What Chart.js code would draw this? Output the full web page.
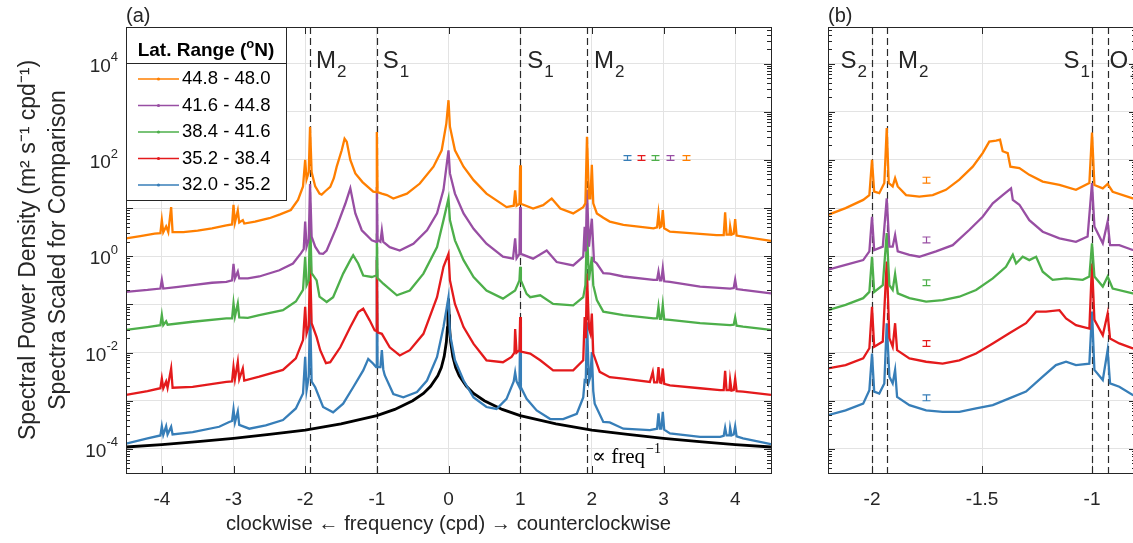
<!DOCTYPE html>
<html>
<head>
<meta charset="utf-8">
<script src="https://cdn.jsdelivr.net/npm/chart.js@4.4.1/dist/chart.umd.min.js"></script>
<style>
  html, body { margin: 0; padding: 0; background: #fff; width: 1133px; height: 543px; overflow: hidden; }
  #chartA { position: absolute; left: 0; top: 0; }
  #chartB { position: absolute; left: 780px; top: 0; }
</style>
</head>
<body>
<canvas id="chartA" width="780" height="543"></canvas>
<canvas id="chartB" width="360" height="543"></canvas>
<script>
// ---- data (frequency in cpd, log10 of scaled spectral density) ----
var latRanges = ['44.8 - 48.0', '41.6 - 44.8', '38.4 - 41.6', '35.2 - 38.4', '32.0 - 35.2'];
var seriesColors = ['#ff7f00', '#984ea3', '#4daf4a', '#e41a1c', '#377eb8'];

var xTicksA = [-4, -3, -2, -1, 0, 1, 2, 3, 4];
var xTicksB = [-2, -1.5, -1];
var yDecades = [-4, -3, -2, -1, 0, 1, 2, 3, 4];
var yLabelExps = [-4, -2, 0, 2, 4];

var tideLinesA = [-1.9323, -1.0, 1.0, 1.9323];
var tideNamesA = [['M', '2'], ['S', '1'], ['S', '1'], ['M', '2']];
var tideLinesB = [-2.0, -1.9323, -1.0, -0.9295];
var tideNamesB = [['S', '2'], ['M', '2'], ['S', '1'], ['O', '1']];

// panel (a)
var a448 = [[-4.5,0.37],[-4.3,0.42],[-4.1,0.47],[-4.02,0.48],[-4.0,0.75],[-3.98,0.5],[-3.94,0.62],[-3.91,0.5],[-3.87,1.02],[-3.85,0.5],[-3.7,0.5],[-3.5,0.53],[-3.3,0.58],[-3.1,0.64],[-3.02,0.66],[-3.0,1.07],[-2.98,0.7],[-2.94,0.95],[-2.92,0.7],[-2.87,0.75],[-2.85,0.68],[-2.7,0.72],[-2.5,0.79],[-2.35,0.87],[-2.2,0.96],[-2.1,1.17],[-2.03,1.45],[-2.0,2.0],[-1.98,1.6],[-1.95,1.75],[-1.932,2.69],[-1.91,1.75],[-1.86,1.45],[-1.8,1.3],[-1.77,1.28],[-1.72,1.35],[-1.65,1.44],[-1.6,1.62],[-1.56,1.86],[-1.49,2.2],[-1.45,2.44],[-1.42,2.38],[-1.37,2.0],[-1.3,1.72],[-1.2,1.54],[-1.05,1.34],[-1.01,1.33],[-1.0,2.58],[-0.99,1.33],[-0.93,1.3],[-0.86,1.27],[-0.77,1.2],[-0.58,1.3],[-0.4,1.51],[-0.21,1.86],[-0.095,2.2],[-0.03,2.76],[0,3.24],[0.02,2.69],[0.09,2.2],[0.21,1.86],[0.35,1.58],[0.53,1.3],[0.81,1.02],[0.91,1.05],[0.93,1.37],[0.95,1.05],[0.99,1.09],[1.0,1.89],[1.01,1.09],[1.18,0.99],[1.32,1.06],[1.44,1.2],[1.56,0.99],[1.74,0.89],[1.88,1.02],[1.91,1.1],[1.932,2.48],[1.96,1.2],[1.98,1.2],[2.0,1.9],[2.02,1.1],[2.07,0.89],[2.16,0.8],[2.25,0.72],[2.44,0.65],[2.86,0.58],[2.91,0.6],[2.93,0.89],[2.95,0.6],[2.97,0.62],[2.99,0.96],[3.01,0.58],[3.09,0.51],[3.37,0.48],[3.74,0.44],[3.84,0.44],[3.86,0.91],[3.88,0.45],[3.92,0.45],[3.93,0.62],[3.95,0.45],[3.98,0.47],[4.0,0.77],[4.02,0.43],[4.11,0.41],[4.5,0.32]];
var a416 = [[-4.5,-0.74],[-4.2,-0.7],[-4.02,-0.67],[-4.0,-0.49],[-3.98,-0.67],[-3.8,-0.64],[-3.57,-0.6],[-3.3,-0.55],[-3.1,-0.53],[-3.02,-0.5],[-3.0,-0.16],[-2.98,-0.46],[-2.94,-0.32],[-2.92,-0.46],[-2.8,-0.46],[-2.64,-0.42],[-2.36,-0.29],[-2.17,-0.15],[-2.06,0.06],[-2.02,0.15],[-2.0,0.72],[-1.98,0.2],[-1.95,0.35],[-1.932,1.5],[-1.91,0.41],[-1.86,0.2],[-1.8,0.06],[-1.75,0.05],[-1.7,0.12],[-1.56,0.61],[-1.44,1.09],[-1.37,1.41],[-1.3,0.89],[-1.21,0.54],[-1.07,0.33],[-1.01,0.3],[-1.0,1.44],[-0.99,0.34],[-0.95,0.3],[-0.93,0.54],[-0.91,0.3],[-0.82,0.19],[-0.68,0.12],[-0.49,0.26],[-0.3,0.54],[-0.16,0.89],[-0.07,1.38],[0,2.2],[0.02,1.72],[0.09,1.3],[0.21,0.89],[0.35,0.57],[0.53,0.26],[0.76,-0.01],[0.9,-0.05],[0.93,0.37],[0.95,-0.04],[0.99,0.05],[1.0,1.02],[1.01,0.05],[1.18,-0.05],[1.37,0.12],[1.51,-0.12],[1.74,-0.19],[1.88,-0.01],[1.9,0.61],[1.915,0.1],[1.932,1.38],[1.96,0.2],[2.0,0.78],[2.03,-0.1],[2.07,-0.15],[2.16,-0.35],[2.25,-0.36],[2.44,-0.42],[2.86,-0.49],[2.91,-0.49],[2.93,-0.32],[2.95,-0.5],[2.97,-0.5],[2.99,-0.25],[3.01,-0.52],[3.09,-0.53],[3.51,-0.63],[3.93,-0.67],[3.98,-0.66],[4.0,-0.49],[4.02,-0.68],[4.11,-0.7],[4.5,-0.77]];
var a384 = [[-4.5,-1.53],[-4.2,-1.47],[-4.02,-1.43],[-4.0,-1.22],[-3.98,-1.43],[-3.94,-1.35],[-3.92,-1.42],[-3.57,-1.36],[-3.1,-1.29],[-3.02,-1.29],[-3.0,-0.98],[-2.98,-1.25],[-2.94,-0.98],[-2.92,-1.27],[-2.8,-1.28],[-2.64,-1.22],[-2.31,-1.12],[-2.13,-0.94],[-2.03,-0.7],[-2.0,-0.01],[-1.98,-0.6],[-1.95,-0.5],[-1.932,0.79],[-1.91,-0.35],[-1.84,-0.5],[-1.8,-0.84],[-1.7,-0.95],[-1.61,-0.85],[-1.47,-0.36],[-1.37,-0.08],[-1.33,0.02],[-1.26,-0.15],[-1.19,-0.4],[-1.07,-0.43],[-1.01,-0.4],[-1.0,0.47],[-0.99,-0.45],[-0.91,-0.57],[-0.72,-0.81],[-0.54,-0.71],[-0.35,-0.36],[-0.16,0.19],[-0.07,0.75],[0,1.2],[0.02,0.75],[0.09,0.33],[0.21,-0.08],[0.35,-0.43],[0.53,-0.71],[0.76,-0.88],[0.93,-0.71],[0.99,-0.5],[1.0,-0.22],[1.01,-0.5],[1.09,-0.78],[1.14,-0.85],[1.28,-0.81],[1.46,-0.99],[1.74,-1.02],[1.88,-0.85],[1.91,-0.6],[1.932,0.54],[1.96,-0.5],[2.0,-0.01],[2.02,-0.6],[2.07,-0.91],[2.16,-1.15],[2.44,-1.22],[2.86,-1.29],[2.91,-1.29],[2.93,-1.05],[2.95,-1.3],[2.97,-1.3],[2.99,-1.01],[3.01,-1.31],[3.09,-1.32],[3.51,-1.39],[3.93,-1.43],[3.98,-1.42],[4.0,-1.27],[4.02,-1.44],[4.11,-1.46],[4.5,-1.53]];
var a352 = [[-4.5,-2.88],[-4.2,-2.8],[-4.02,-2.74],[-4.0,-2.54],[-3.98,-2.74],[-3.94,-2.6],[-3.92,-2.73],[-3.87,-2.33],[-3.85,-2.73],[-3.57,-2.71],[-3.1,-2.61],[-3.02,-2.6],[-3.0,-2.3],[-2.98,-2.55],[-2.94,-2.19],[-2.92,-2.55],[-2.87,-2.33],[-2.85,-2.58],[-2.64,-2.5],[-2.31,-2.36],[-2.13,-2.12],[-2.03,-1.74],[-2.0,-1.05],[-1.98,-1.6],[-1.95,-1.45],[-1.932,-0.1],[-1.91,-1.39],[-1.84,-1.68],[-1.79,-1.95],[-1.71,-2.22],[-1.65,-2.2],[-1.51,-1.89],[-1.37,-1.47],[-1.26,-1.16],[-1.19,-1.09],[-1.1,-1.33],[-1.03,-1.54],[-1.01,-1.55],[-1.0,-0.08],[-0.99,-1.58],[-0.93,-1.61],[-0.82,-1.89],[-0.68,-2.06],[-0.54,-1.95],[-0.35,-1.61],[-0.16,-0.85],[-0.07,-0.22],[0,0.05],[0.02,-0.5],[0.09,-0.99],[0.21,-1.47],[0.35,-1.82],[0.53,-2.16],[0.76,-2.2],[0.88,-2.09],[0.92,-2.0],[0.93,-1.51],[0.95,-2.0],[0.99,-1.95],[1.0,-1.26],[1.01,-1.98],[1.14,-2.02],[1.28,-2.16],[1.46,-2.37],[1.74,-2.37],[1.88,-2.16],[1.9,-1.26],[1.915,-1.7],[1.932,-0.36],[1.96,-1.5],[1.98,-1.6],[2.0,-1.19],[2.02,-2.02],[2.11,-2.4],[2.25,-2.51],[2.44,-2.54],[2.81,-2.61],[2.85,-2.4],[2.87,-2.62],[2.91,-2.62],[2.93,-2.3],[2.95,-2.62],[2.97,-2.63],[2.99,-2.33],[3.01,-2.65],[3.09,-2.68],[3.51,-2.74],[3.79,-2.78],[3.84,-2.78],[3.86,-2.38],[3.88,-2.78],[3.92,-2.78],[3.93,-2.57],[3.95,-2.79],[3.98,-2.78],[4.0,-2.54],[4.02,-2.8],[4.11,-2.81],[4.5,-2.88]];
var a320 = [[-4.5,-3.89],[-4.2,-3.78],[-4.02,-3.72],[-4.0,-3.53],[-3.98,-3.71],[-3.94,-3.53],[-3.92,-3.7],[-3.87,-3.54],[-3.85,-3.7],[-3.57,-3.65],[-3.2,-3.54],[-3.06,-3.44],[-3.02,-3.42],[-3.0,-3.18],[-2.98,-3.45],[-2.94,-3.22],[-2.92,-3.5],[-2.78,-3.58],[-2.55,-3.51],[-2.31,-3.4],[-2.13,-3.16],[-2.03,-2.85],[-2.0,-2.09],[-1.98,-2.78],[-1.95,-2.5],[-1.932,-1.08],[-1.91,-2.6],[-1.86,-2.72],[-1.75,-3.13],[-1.61,-3.24],[-1.47,-3.06],[-1.33,-2.72],[-1.19,-2.37],[-1.12,-2.13],[-1.05,-2.23],[-1.01,-2.3],[-1.0,-0.01],[-0.99,-2.3],[-0.95,-2.3],[-0.93,-1.95],[-0.91,-2.35],[-0.89,-2.47],[-0.77,-2.86],[-0.63,-2.93],[-0.44,-2.82],[-0.3,-2.58],[-0.16,-2.09],[-0.07,-1.47],[0,-0.85],[0.02,-1.61],[0.09,-2.16],[0.21,-2.58],[0.35,-2.93],[0.53,-3.13],[0.67,-3.17],[0.81,-2.96],[0.91,-2.6],[0.93,-2.41],[0.95,-2.6],[0.99,-2.72],[1.0,-1.47],[1.01,-2.72],[1.09,-2.96],[1.23,-3.2],[1.42,-3.38],[1.6,-3.38],[1.79,-3.27],[1.88,-2.93],[1.9,-2.58],[1.915,-2.6],[1.932,-1.37],[1.96,-2.6],[1.98,-2.5],[2.0,-1.99],[2.02,-2.8],[2.04,-3.06],[2.16,-3.44],[2.25,-3.45],[2.44,-3.58],[2.81,-3.61],[2.91,-3.58],[2.93,-3.26],[2.95,-3.58],[2.97,-3.58],[2.99,-3.23],[3.01,-3.6],[3.09,-3.68],[3.51,-3.75],[3.79,-3.75],[3.84,-3.73],[3.86,-3.56],[3.88,-3.72],[3.92,-3.72],[3.93,-3.56],[3.95,-3.72],[3.98,-3.7],[4.0,-3.53],[4.02,-3.74],[4.11,-3.78],[4.5,-3.9]];
// the black "proportional to 1/freq" reference curve
var powerLawA = [[-4.5,-3.96],[-4,-3.91],[-3.5,-3.85],[-3,-3.78],[-2.5,-3.7],[-2,-3.61],[-1.5,-3.48],[-1,-3.31],[-0.75,-3.18],[-0.5,-3.0],[-0.35,-2.85],[-0.25,-2.7],[-0.15,-2.48],[-0.1,-2.31],[-0.06,-2.08],[-0.03,-1.78],[-0.015,-1.48],[-0.008,-1.21],[0,-0.88],[0.008,-1.21],[0.015,-1.48],[0.03,-1.78],[0.06,-2.08],[0.1,-2.31],[0.15,-2.48],[0.25,-2.7],[0.35,-2.85],[0.5,-3.0],[0.75,-3.18],[1,-3.31],[1.5,-3.48],[2,-3.61],[2.5,-3.7],[3,-3.78],[3.5,-3.85],[4,-3.91],[4.5,-3.96]];
// confidence bars: x, centre (log10), half height (log10); colours blue..orange
var errXA = [2.49, 2.69, 2.88, 3.09, 3.31];
var errCA = [2.04, 2.04, 2.04, 2.04, 2.04];
var errHalfA = 0.05;
var errColorA = [4, 3, 2, 1, 0];

// panel (b)
var b448 = [[-2.2,0.86],[-2.12,1.0],[-2.04,1.17],[-2.012,1.27],[-2.0,2.0],[-1.99,1.34],[-1.967,1.31],[-1.944,1.52],[-1.933,2.66],[-1.924,1.52],[-1.906,1.45],[-1.895,1.62],[-1.883,1.45],[-1.845,1.27],[-1.785,1.24],[-1.724,1.27],[-1.664,1.38],[-1.603,1.59],[-1.542,1.86],[-1.497,2.14],[-1.467,2.38],[-1.436,2.4],[-1.418,2.42],[-1.406,2.18],[-1.383,2.14],[-1.371,1.86],[-1.33,1.83],[-1.285,1.69],[-1.224,1.55],[-1.148,1.48],[-1.073,1.38],[-1.012,1.52],[-1.0,2.57],[-0.989,1.48],[-0.951,1.41],[-0.929,1.5],[-0.906,1.34],[-0.815,1.2],[-0.8,1.19]];
var b416 = [[-2.2,-0.28],[-2.12,-0.18],[-2.04,-0.08],[-2.012,0.1],[-2.0,0.82],[-1.99,0.13],[-1.951,0.2],[-1.933,1.2],[-1.921,0.2],[-1.906,0.2],[-1.895,0.44],[-1.883,0.1],[-1.83,0.03],[-1.785,-0.01],[-1.709,0.1],[-1.633,0.23],[-1.557,0.55],[-1.497,0.82],[-1.451,1.1],[-1.406,1.27],[-1.368,1.41],[-1.36,1.17],[-1.33,1.07],[-1.285,0.75],[-1.224,0.51],[-1.148,0.37],[-1.073,0.3],[-1.02,0.41],[-1.0,1.52],[-0.989,0.62],[-0.951,0.27],[-0.929,0.72],[-0.918,0.23],[-0.876,0.23],[-0.815,0.13],[-0.8,0.12]];
var b384 = [[-2.2,-1.12],[-2.12,-1.01],[-2.04,-0.87],[-2.012,-0.74],[-2.0,-0.01],[-1.99,-0.74],[-1.951,-0.6],[-1.933,0.48],[-1.921,-0.6],[-1.906,-0.7],[-1.895,-0.37],[-1.883,-0.77],[-1.83,-0.87],[-1.754,-0.94],[-1.679,-0.91],[-1.603,-0.84],[-1.527,-0.7],[-1.451,-0.46],[-1.391,-0.22],[-1.36,0.03],[-1.345,-0.15],[-1.315,-0.01],[-1.285,-0.08],[-1.254,-0.01],[-1.224,-0.32],[-1.179,-0.49],[-1.118,-0.46],[-1.042,-0.49],[-1.012,-0.42],[-1.0,0.27],[-0.989,-0.42],[-0.951,-0.63],[-0.929,-0.42],[-0.906,-0.67],[-0.815,-0.77],[-0.8,-0.78]];
var b352 = [[-2.2,-2.33],[-2.12,-2.26],[-2.04,-2.12],[-2.012,-1.91],[-2.0,-1.05],[-1.99,-1.88],[-1.951,-1.77],[-1.933,-0.11],[-1.921,-1.7],[-1.906,-1.88],[-1.895,-1.39],[-1.886,-1.95],[-1.83,-2.12],[-1.754,-2.19],[-1.679,-2.23],[-1.603,-2.16],[-1.527,-2.02],[-1.451,-1.81],[-1.376,-1.6],[-1.3,-1.39],[-1.254,-1.15],[-1.209,-1.15],[-1.148,-1.12],[-1.118,-1.29],[-1.073,-1.43],[-1.012,-1.5],[-1.0,-0.15],[-0.989,-1.32],[-0.951,-1.64],[-0.929,-1.19],[-0.918,-1.71],[-0.876,-1.81],[-0.815,-1.91],[-0.8,-1.92]];
var b320 = [[-2.2,-3.3],[-2.12,-3.2],[-2.04,-3.06],[-2.012,-2.78],[-2.0,-2.02],[-1.99,-2.81],[-1.967,-2.85],[-1.944,-2.64],[-1.933,-1.39],[-1.921,-2.5],[-1.906,-2.64],[-1.895,-2.36],[-1.886,-2.92],[-1.83,-3.09],[-1.754,-3.2],[-1.679,-3.23],[-1.603,-3.23],[-1.527,-3.16],[-1.451,-3.09],[-1.376,-2.95],[-1.3,-2.81],[-1.224,-2.5],[-1.164,-2.26],[-1.118,-2.19],[-1.073,-2.26],[-1.012,-2.23],[-1.0,-1.15],[-0.989,-2.36],[-0.951,-2.57],[-0.929,-1.95],[-0.918,-2.64],[-0.876,-2.71],[-0.815,-2.88],[-0.8,-2.9]];
var errXB = [-1.754, -1.754, -1.754, -1.754, -1.754];
var errCB = [1.58, 0.34, -0.55, -1.81, -2.94];
var errHalfB = 0.06;
var errColorB = [0, 1, 2, 3, 4];

// ---- styling ----
var FONT = "'Liberation Sans', Arial, Helvetica, sans-serif";
var SERIF = "'Liberation Serif', 'DejaVu Serif', serif";
var INK = '#262626';
var GRID = '#e3e3e3';

function toPts(arr) {
    return arr.map(function (p) { return { x: p[0], y: Math.pow(10, p[1]) }; });
}

function spectra(list) {
    return list.map(function (arr, i) {
        return {
            label: latRanges[i],
            data: toPts(arr),
            borderColor: seriesColors[i],
            backgroundColor: seriesColors[i],
            borderWidth: 2.3,
            pointRadius: 0,
            tension: 0
        };
    });
}

function subText(ctx, x, y, main, sub, alignRight) {
    ctx.font = '24px ' + FONT;
    var w1 = ctx.measureText(main).width;
    ctx.font = '17px ' + FONT;
    var w2 = ctx.measureText(sub).width;
    var x0 = alignRight ? x - w1 - w2 - 1 : x;
    ctx.textAlign = 'left';
    ctx.textBaseline = 'alphabetic';
    ctx.fillStyle = INK;
    ctx.font = '24px ' + FONT;
    ctx.fillText(main, x0, y);
    ctx.font = '17px ' + FONT;
    ctx.fillText(sub, x0 + w1 + 1, y + 9);
}

function frame(chart, cfg) {
    var ctx = chart.ctx, a = chart.chartArea, x = chart.scales.x, y = chart.scales.y;
    ctx.save();
    ctx.strokeStyle = INK;
    ctx.lineWidth = 1;
    ctx.beginPath();
    for (var e = -5; e <= 5; e++) {
        for (var k = 1; k <= 9; k++) {
            var v = k * Math.pow(10, e);
            if (v < y.min || v > y.max) continue;
            var py = Math.round(y.getPixelForValue(v)) + 0.5;
            var len = k === 1 ? 7 : 4;
            ctx.moveTo(a.left, py); ctx.lineTo(a.left + len, py);
            ctx.moveTo(a.right, py); ctx.lineTo(a.right - len, py);
        }
    }
    x.ticks.forEach(function (t) {
        var px = Math.round(x.getPixelForValue(t.value)) + 0.5;
        ctx.moveTo(px, a.bottom); ctx.lineTo(px, a.bottom - 7);
        ctx.moveTo(px, a.top); ctx.lineTo(px, a.top + 7);
    });
    ctx.stroke();
    ctx.strokeRect(a.left + 0.5, a.top + 0.5, a.right - a.left, a.bottom - a.top);

    // panel letter
    ctx.fillStyle = INK;
    ctx.font = '20px ' + FONT;
    ctx.textAlign = 'left';
    ctx.textBaseline = 'middle';
    ctx.fillText(cfg.letter, a.left, 16);

    // y tick labels 10^n
    if (cfg.yLabels) {
        yLabelExps.forEach(function (ex) {
            var py = y.getPixelForValue(Math.pow(10, ex));
            var es = String(ex);
            ctx.font = '13px ' + FONT;
            var we = ctx.measureText(es).width;
            ctx.textAlign = 'right';
            ctx.font = '19px ' + FONT;
            ctx.fillText('10', a.left - 8 - we, py + 3);
            ctx.textAlign = 'left';
            ctx.font = '13px ' + FONT;
            ctx.fillText(es, a.left - 8 - we, py - 6);
        });
    }

    // error bars
    cfg.errX.forEach(function (xv, i) {
        var px = Math.round(x.getPixelForValue(xv)) + 0.5;
        var top = y.getPixelForValue(Math.pow(10, cfg.errC[i] + cfg.errHalf));
        var bot = y.getPixelForValue(Math.pow(10, cfg.errC[i] - cfg.errHalf));
        ctx.strokeStyle = seriesColors[cfg.errColor[i]];
        ctx.lineWidth = 1.2;
        ctx.beginPath();
        ctx.moveTo(px, top); ctx.lineTo(px, bot);
        ctx.moveTo(px - 4, top); ctx.lineTo(px + 4, top);
        ctx.moveTo(px - 4, bot); ctx.lineTo(px + 4, bot);
        ctx.stroke();
    });

    // tidal constituent labels
    cfg.tides.forEach(function (f, i) {
        var px = x.getPixelForValue(f);
        var off = cfg.tideOffsets[i];
        subText(ctx, px + off, 68, cfg.tideNames[i][0], cfg.tideNames[i][1], off < 0);
    });
    ctx.restore();
}

function dashed(chart, lines) {
    var ctx = chart.ctx, a = chart.chartArea, x = chart.scales.x;
    ctx.save();
    ctx.strokeStyle = '#2a2a2a';
    ctx.lineWidth = 1.2;
    ctx.setLineDash([7, 4]);
    lines.forEach(function (f) {
        var px = Math.round(x.getPixelForValue(f)) + 0.5;
        ctx.beginPath();
        ctx.moveTo(px, a.top);
        ctx.lineTo(px, a.bottom);
        ctx.stroke();
    });
    ctx.restore();
}

function legendBox(chart) {
    var ctx = chart.ctx, a = chart.chartArea;
    var lx = a.left, ly = a.top, lw = 160, lh = 173;
    ctx.save();
    ctx.fillStyle = '#fff';
    ctx.fillRect(lx, ly, lw, lh);
    ctx.strokeStyle = INK;
    ctx.lineWidth = 1;
    ctx.strokeRect(lx + 0.5, ly + 0.5, lw, lh);
    ctx.beginPath();
    ctx.moveTo(lx, ly + 36.5); ctx.lineTo(lx + lw, ly + 36.5);
    ctx.stroke();

    // header "Lat. Range (oN)" with raised o
    ctx.fillStyle = '#000';
    ctx.textAlign = 'left';
    ctx.textBaseline = 'alphabetic';
    var p1 = 'Lat. Range (', p2 = 'o', p3 = 'N)';
    ctx.font = 'bold 19px ' + FONT; var w1 = ctx.measureText(p1).width, w3 = ctx.measureText(p3).width;
    ctx.font = 'bold 13px ' + FONT; var w2 = ctx.measureText(p2).width;
    var hx = lx + lw / 2 - (w1 + w2 + w3) / 2, hy = ly + 29;
    ctx.font = 'bold 19px ' + FONT; ctx.fillText(p1, hx, hy);
    ctx.font = 'bold 13px ' + FONT; ctx.fillText(p2, hx + w1, hy - 8);
    ctx.font = 'bold 19px ' + FONT; ctx.fillText(p3, hx + w1 + w2, hy);

    latRanges.forEach(function (lab, i) {
        var yy = ly + 52 + i * 26.5;
        ctx.strokeStyle = seriesColors[i];
        ctx.lineWidth = 1.5;
        ctx.beginPath();
        ctx.moveTo(lx + 12, yy); ctx.lineTo(lx + 53, yy);
        ctx.stroke();
        ctx.fillStyle = seriesColors[i];
        ctx.beginPath();
        ctx.arc(lx + 32.5, yy, 1.6, 0, Math.PI * 2);
        ctx.fill();
        ctx.fillStyle = '#000';
        ctx.font = '18.5px ' + FONT;
        ctx.textBaseline = 'middle';
        ctx.fillText(lab, lx + 56, yy);
    });
    ctx.restore();
}

function scalesFor(xmin, xmax, xticks, yWidth, withTitles) {
    return {
        x: {
            type: 'linear',
            min: xmin,
            max: xmax,
            bounds: 'data',
            afterBuildTicks: function (s) { s.ticks = xticks.map(function (v) { return { value: v }; }); },
            afterFit: function (s) { s.height = 70; },
            grid: { color: GRID, drawTicks: false },
            border: { display: false },
            ticks: {
                font: { family: FONT, size: 19 },
                color: INK,
                padding: 15,
                maxRotation: 0,
                callback: function (v) { return String(v); }
            },
            title: {
                display: withTitles,
                text: 'clockwise \u2190 frequency (cpd) \u2192 counterclockwise',
                font: { family: FONT, size: 20.3 },
                color: INK,
                padding: { top: 0, bottom: 6 }
            }
        },
        y: {
            type: 'logarithmic',
            min: Math.pow(10, -4.5),
            max: Math.pow(10, 4.76),
            bounds: 'data',
            afterBuildTicks: function (s) { s.ticks = yDecades.map(function (e) { return { value: Math.pow(10, e) }; }); },
            afterFit: function (s) { s.width = yWidth; },
            grid: { color: GRID, drawTicks: false },
            border: { display: false },
            ticks: { display: false },
            title: {
                display: withTitles,
                text: ['Spectral Power Density (m\u00b2 s\u207b\u00b9 cpd\u207b\u00b9)', 'Spectra Scaled for Comparison'],
                font: { family: FONT, size: 23, lineHeight: 1.3 },
                color: INK,
                padding: { top: 14, bottom: 0 }
            }
        }
    };
}

// ---- panel (a) ----
var dsA = spectra([a448, a416, a384, a352, a320]);
dsA.push({
    label: 'freq^-1',
    data: toPts(powerLawA),
    borderColor: '#000',
    borderWidth: 2.8,
    pointRadius: 0,
    tension: 0
});

var chartA = new Chart(document.getElementById('chartA').getContext('2d'), {
    type: 'line',
    data: { datasets: dsA },
    options: {
        responsive: false,
        animation: false,
        layout: { padding: { top: 27, right: 9, left: 0, bottom: 0 } },
        scales: scalesFor(-4.5, 4.5, xTicksA, 126, true),
        plugins: { legend: { display: false }, tooltip: { enabled: false } }
    },
    plugins: [{
        id: 'decorA',
        beforeDatasetsDraw: function (chart) { dashed(chart, tideLinesA); },
        afterDatasetsDraw: function (chart) {
            var ctx = chart.ctx, x = chart.scales.x, y = chart.scales.y;
            frame(chart, {
                letter: '(a)', yLabels: true,
                errX: errXA, errC: errCA, errHalf: errHalfA, errColor: errColorA,
                tides: tideLinesA, tideNames: tideNamesA, tideOffsets: [6, 6, 7, 7]
            });
            // "proportional to freq^-1" note
            ctx.save();
            ctx.fillStyle = '#000';
            ctx.textAlign = 'left';
            ctx.textBaseline = 'alphabetic';
            var nx = x.getPixelForValue(2.0), ny = y.getPixelForValue(Math.pow(10, -4.3));
            ctx.font = '21px ' + SERIF;
            var tx = '\u221d freq';
            ctx.fillText(tx, nx, ny);
            var w = ctx.measureText(tx).width;
            ctx.font = '14px ' + SERIF;
            ctx.fillText('\u22121', nx + w + 1, ny - 10);
            ctx.restore();
            legendBox(chart);
        }
    }]
});

// ---- panel (b) ----
var chartB = new Chart(document.getElementById('chartB').getContext('2d'), {
    type: 'line',
    data: { datasets: spectra([b448, b416, b384, b352, b320]) },
    options: {
        responsive: false,
        animation: false,
        layout: { padding: { top: 27, right: 4, left: 0, bottom: 0 } },
        scales: scalesFor(-2.2, -0.8, xTicksB, 48, false),
        plugins: { legend: { display: false }, tooltip: { enabled: false } }
    },
    plugins: [{
        id: 'decorB',
        beforeDatasetsDraw: function (chart) { dashed(chart, tideLinesB); },
        afterDatasetsDraw: function (chart) {
            frame(chart, {
                letter: '(b)', yLabels: false,
                errX: errXB, errC: errCB, errHalf: errHalfB, errColor: errColorB,
                tides: tideLinesB, tideNames: tideNamesB, tideOffsets: [-5, 11, -2, 2]
            });
        }
    }]
});
</script>
</body>
</html>
